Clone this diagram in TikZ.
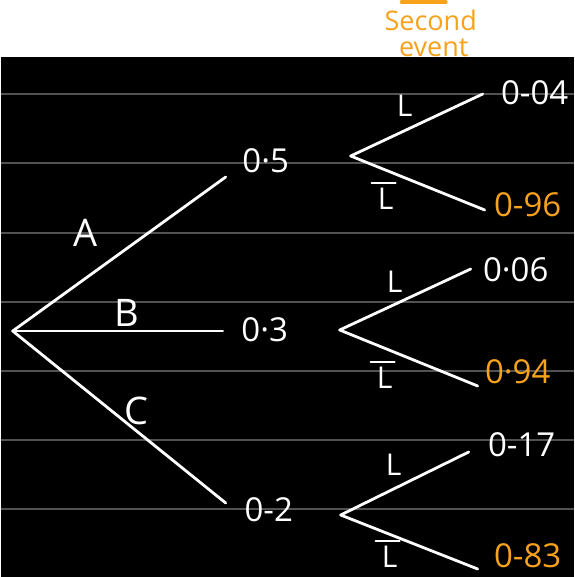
\documentclass[tikz,border=0pt]{standalone}
\usepackage{fontspec}
\setmainfont{Open Sans}
\definecolor{TDOrange}{RGB}{247,162,27}
\definecolor{TDGrey}{RGB}{82,82,82}

\begin{document}
\begin{tikzpicture}[x=1pt,y=-1pt,
    branch/.style={draw=white,line width=2.8pt,line cap=round,line join=round},
    rule/.style={draw=TDGrey,line width=1.4pt},
    bar/.style={draw=white,line width=2pt,line cap=round},
    prob/.style={text=white,inner sep=0pt,font=\fontsize{33}{33}\selectfont},
    outcome/.style={text=white,inner sep=0pt,font=\fontsize{38}{38}\selectfont},
    event/.style={text=white,inner sep=0pt,font=\fontsize{30}{30}\selectfont},
    heading/.style={text=TDOrange,inner sep=0pt,font=\fontsize{27}{27}\selectfont}]
      % page: white band, black board and ruled lines
      \fill[white] (0,0) rectangle (573,57);
      \fill[black] (0,57) rectangle (573,577);
      \foreach \y in {94,163,233,302,371,440,509}
        \draw[rule] (0,\y) -- (573,\y);
      \useasboundingbox (0,0) rectangle (573,577);

      % heading
      \draw[TDOrange,line width=4pt,line cap=round] (401,2) -- (445,2);
      \node[heading] (title) at (430,20) {Second};
      \node[heading] (title2) at (433,48) {event};

      % first event
      \coordinate (root) at (12,331);
      \coordinate (nA) at (225,177);
      \coordinate (nB) at (222,331);
      \coordinate (nC) at (225,503);
      \draw[branch] (root) -- (nA);
      \draw[branch] (root) -- (nB);
      \draw[branch] (root) -- (nC);
      \node[outcome] (lblA) at (85,233) {A};
      \node[outcome] (lblB) at (126,313) {B};
      \node[outcome] (lblC) at (136,411) {C};
      \node[prob] (pA) at (265,161) {0·5};
      \node[prob] (pB) at (264,330) {0·3};
      \node[prob] (pC) at (268,510) {0-2};

      % second event
      \coordinate (fA) at (350,156);
      \coordinate (fB) at (339,330);
      \coordinate (fC) at (340,515);
      \coordinate (yA) at (482,94);
      \coordinate (zA) at (484,210);
      \coordinate (yB) at (470,269);
      \coordinate (zB) at (477,386);
      \coordinate (yC) at (468,452);
      \coordinate (zC) at (477,569);
      \draw[branch] (fA) -- (yA);
      \draw[branch] (fA) -- (zA);
      \draw[branch] (fB) -- (yB);
      \draw[branch] (fB) -- (zB);
      \draw[branch] (fC) -- (yC);
      \draw[branch] (fC) -- (zC);
      \node[event] (lA) at (404,106) {L};
      \node[event] (nlA) at (385,199) {L};
      \node[event] (lB) at (394,282) {L};
      \node[event] (nlB) at (384,378) {L};
      \node[event] (lC) at (393,465) {L};
      \node[event] (nlC) at (389,557) {L};
      \draw[bar] ([xshift=-6pt,yshift=5pt]nlA.north west) -- ([xshift=2pt,yshift=5pt]nlA.north east);
      \draw[bar] ([xshift=-6pt,yshift=5pt]nlB.north west) -- ([xshift=2pt,yshift=5pt]nlB.north east);
      \draw[bar] ([xshift=-6pt,yshift=5pt]nlC.north west) -- ([xshift=2pt,yshift=5pt]nlC.north east);
      \node[prob] (qA) at (534,93) {0-04};
      \node[prob,text=TDOrange] (rA) at (527,205) {0-96};
      \node[prob] (qB) at (515,270) {0·06};
      \node[prob,text=TDOrange] (rB) at (517,372) {0·94};
      \node[prob] (qC) at (521,445) {0-17};
      \node[prob,text=TDOrange] (rC) at (527,556) {0-83};
    \end{tikzpicture}
\end{document}
